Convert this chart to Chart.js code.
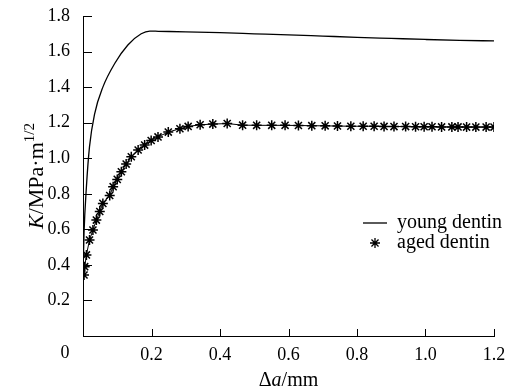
<!DOCTYPE html>
<html>
<head>
<meta charset="utf-8">
<script src="https://cdn.jsdelivr.net/npm/chart.js@4.4.1/dist/chart.umd.min.js"></script>
<style>
  body { margin: 0; background: #fff; }
  #wrap { width: 515px; height: 390px; }
</style>
</head>
<body>
<div id="wrap"><canvas id="myChart"></canvas></div>
<script>
// data
const youngX = [0.001, 0.003, 0.010, 0.019, 0.034, 0.058, 0.093, 0.131, 0.170, 0.195, 0.22, 0.30, 0.40, 0.50, 0.60, 0.70, 0.80, 0.90, 1.00, 1.10, 1.20];
const youngK = [0.42, 0.578, 0.84, 1.065, 1.25, 1.40, 1.534, 1.637, 1.70, 1.715, 1.714, 1.711, 1.706, 1.700, 1.694, 1.687, 1.680, 1.674, 1.668, 1.663, 1.660];

const agedX = [0.003, 0.005, 0.010, 0.019, 0.029, 0.039, 0.049, 0.058, 0.078, 0.088, 0.100, 0.112, 0.126, 0.141, 0.161, 0.180, 0.199, 0.219, 0.249, 0.283, 0.307, 0.342, 0.379, 0.421, 0.466, 0.507, 0.551, 0.590, 0.629, 0.668, 0.707, 0.743, 0.782, 0.818, 0.850, 0.879, 0.908, 0.942, 0.971, 0.996, 1.019, 1.047, 1.077, 1.095, 1.120, 1.147, 1.177, 1.200];
const agedK = [0.343, 0.39, 0.456, 0.54, 0.596, 0.652, 0.70, 0.746, 0.79, 0.84, 0.881, 0.924, 0.967, 1.008, 1.046, 1.074, 1.10, 1.12, 1.147, 1.166, 1.179, 1.188, 1.192, 1.195, 1.186, 1.185, 1.185, 1.185, 1.184, 1.183, 1.182, 1.181, 1.180, 1.180, 1.180, 1.179, 1.178, 1.178, 1.177, 1.177, 1.177, 1.176, 1.176, 1.176, 1.175, 1.175, 1.175, 1.175];

const seriesNames = ['young dentin', 'aged dentin'];
const xTickLabels = ['0', '0.2', '0.4', '0.6', '0.8', '1.0', '1.2'];
const yTickLabels = ['0', '0.2', '0.4', '0.6', '0.8', '1.0', '1.2', '1.4', '1.6', '1.8'];

const serif = "'Liberation Serif', 'Times New Roman', serif";
const fs = 18;

function toPts(xs, ys) {
    return xs.map((x, i) => ({ x: x, y: ys[i] }));
}

// draws a run of text pieces: [text, italic, size, raise]
function drawRun(ctx, x, y, parts) {
    let cx = x;
    parts.forEach(p => {
        ctx.font = (p[1] ? 'italic ' : '') + p[2] + 'px ' + serif;
        ctx.fillText(p[0], cx, y - (p[3] || 0));
        cx += ctx.measureText(p[0]).width;
    });
    return cx - x;
}
function runWidth(ctx, parts) {
    let w = 0;
    parts.forEach(p => {
        ctx.font = (p[1] ? 'italic ' : '') + p[2] + 'px ' + serif;
        w += ctx.measureText(p[0]).width;
    });
    return w;
}

const decor = {
    id: 'decor',
    afterDraw(chart) {
        const ctx = chart.ctx;
        const xs = chart.scales.x, ys = chart.scales.y;
        const area = chart.chartArea;
        ctx.save();
        ctx.strokeStyle = '#000';
        ctx.lineWidth = 1;
        // inward ticks
        ctx.beginPath();
        xs.ticks.forEach(t => {
            if (t.value === 0) return;
            const px = Math.round(xs.getPixelForValue(t.value)) + 0.5;
            ctx.moveTo(px, area.bottom);
            ctx.lineTo(px, area.bottom - 7);
        });
        ys.ticks.forEach(t => {
            if (t.value === 0) return;
            const py = Math.round(ys.getPixelForValue(t.value)) + 0.5;
            ctx.moveTo(area.left, py);
            ctx.lineTo(area.left + 9, py);
        });
        ctx.stroke();

        ctx.fillStyle = '#000';
        // shared origin label
        ctx.font = fs + 'px ' + serif;
        ctx.textAlign = 'center';
        ctx.textBaseline = 'middle';
        ctx.fillText(xTickLabels[0], 65, ys.getPixelForValue(0) + 17);

        // x title
        ctx.textAlign = 'left';
        ctx.textBaseline = 'alphabetic';
        const xParts = [['\u0394', false, 20], ['a', true, 20], ['/mm', false, 20]];
        const xw = runWidth(ctx, xParts);
        drawRun(ctx, (area.left + area.right) / 2 - xw / 2, 386, xParts);

        // y title, rotated
        const yParts = [['K', true, 22], ['/MPa\u00b7m', false, 22], ['1/2', false, 15, 9]];
        const yw = runWidth(ctx, yParts);
        ctx.save();
        ctx.translate(43, (area.top + area.bottom) / 2 + yw / 2);
        ctx.rotate(-Math.PI / 2);
        drawRun(ctx, 0, 0, yParts);
        ctx.restore();

        // legend
        const lx = 363, ly1 = 223, ly2 = 243;
        ctx.lineWidth = 1.3;
        ctx.beginPath();
        ctx.moveTo(lx, ly1);
        ctx.lineTo(lx + 24, ly1);
        ctx.stroke();
        const meta = chart.getDatasetMeta(1);
        const pOpt = meta.data[0].options;
        Chart.helpers.drawPoint(ctx, {
            pointStyle: 'star', radius: pOpt.radius, rotation: 0,
            borderWidth: pOpt.borderWidth
        }, lx + 12, ly2);
        ctx.font = '20px ' + serif;
        ctx.textBaseline = 'middle';
        ctx.fillText(seriesNames[0], lx + 34, ly1);
        ctx.fillText(seriesNames[1], lx + 34, ly2);
        ctx.restore();
    }
};

const ctx = document.getElementById('myChart').getContext('2d');

new Chart(ctx, {
    type: 'scatter',
    data: {
        datasets: [{
            label: seriesNames[0],
            data: toPts(youngX, youngK),
            showLine: true,
            borderColor: '#000',
            borderWidth: 1.3,
            pointRadius: 0,
            cubicInterpolationMode: 'monotone'
        }, {
            label: seriesNames[1],
            data: toPts(agedX, agedK),
            showLine: true,
            borderColor: '#000',
            backgroundColor: '#000',
            borderWidth: 1,
            pointStyle: 'star',
            pointRadius: 5,
            pointBorderWidth: 1.5,
            pointBorderColor: '#000'
        }]
    },
    options: {
        responsive: true,
        maintainAspectRatio: false,
        animation: false,
        layout: { padding: { left: 0, right: 21, top: 16, bottom: 0 } },
        plugins: {
            legend: { display: false },
            tooltip: { enabled: false }
        },
        scales: {
            x: {
                type: 'linear',
                min: 0,
                max: 1.2,
                afterFit(scale) {
                    scale.height = 54;
                    scale.paddingLeft = 0;
                    scale.paddingRight = 0;
                },
                grid: { drawOnChartArea: false, drawTicks: false },
                border: { display: true, color: '#000', width: 1 },
                ticks: {
                    stepSize: 0.2,
                    padding: 8,
                    color: '#000',
                    font: { family: serif, size: fs },
                    maxRotation: 0,
                    callback: (v, i) => v === 0 ? '' : xTickLabels[i]
                }
            },
            y: {
                min: 0,
                max: 1.8,
                afterFit(scale) {
                    scale.width = 83;
                    scale.paddingTop = 0;
                    scale.paddingBottom = 0;
                },
                grid: { drawOnChartArea: false, drawTicks: false },
                border: { display: true, color: '#000', width: 1 },
                ticks: {
                    stepSize: 0.2,
                    padding: 13,
                    color: '#000',
                    font: { family: serif, size: fs },
                    callback: (v, i) => v === 0 ? '' : yTickLabels[i]
                }
            }
        }
    },
    plugins: [decor]
});
</script>
</body>
</html>
